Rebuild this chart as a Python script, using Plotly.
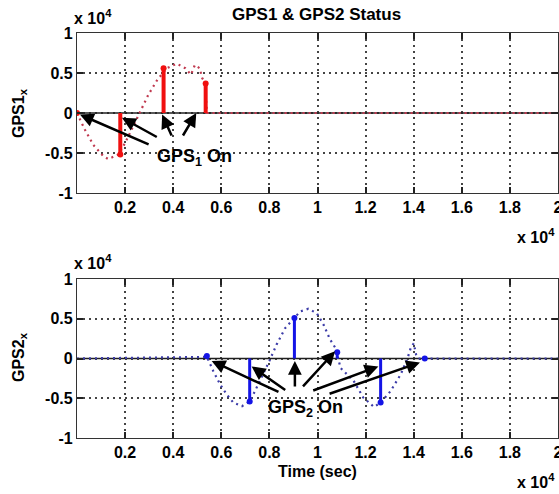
import plotly.graph_objects as go

# ---------------- data (values in units of 1e4) ----------------
x_ticks = [0.2, 0.4, 0.6, 0.8, 1.0, 1.2, 1.4, 1.6, 1.8, 2.0]
x_tick_labels = ["0.2", "0.4", "0.6", "0.8", "1", "1.2", "1.4", "1.6", "1.8", "2"]
y_ticks = [-1, -0.5, 0, 0.5, 1]
y_tick_labels = ["-1", "-0.5", "0", "0.5", "1"]

# GPS1 trajectory (dotted)
gps1_t = [0.0, 0.033, 0.068, 0.11, 0.13, 0.172, 0.2, 0.22, 0.2625, 0.297, 0.335,
          0.374, 0.415, 0.45, 0.474, 0.49, 0.51, 0.52, 0.533, 0.54, 2.0]
gps1_v = [0.0, -0.21, -0.40, -0.54, -0.575, -0.52, -0.375, -0.25, 0.0, 0.23, 0.42,
          0.56, 0.617, 0.56, 0.48, 0.60, 0.56, 0.44, 0.375, 0.0, 0.0]
# GPS1 "On" samples (stems)
gps1_on_t = [0.0, 0.18, 0.36, 0.535]
gps1_on_v = [0.0, -0.52, 0.56, 0.37]

# GPS2 trajectory (dotted)
gps2_t = [0.0, 0.54, 0.567, 0.595, 0.622, 0.65, 0.686, 0.718, 0.74, 0.768, 0.8,
          0.83, 0.865, 0.904, 0.927, 0.962, 0.997, 1.026, 1.052, 1.075, 1.096,
          1.15, 1.19, 1.235, 1.2625, 1.304, 1.346, 1.374, 1.3875, 1.40, 1.41,
          1.42, 1.446, 2.0]
gps2_v = [0.0, 0.02, -0.16, -0.325, -0.45, -0.555, -0.60, -0.54, -0.41, -0.24, -0.03,
          0.175, 0.38, 0.51, 0.59, 0.625, 0.57, 0.42, 0.24, 0.13, -0.12,
          -0.28, -0.49, -0.61, -0.555, -0.41, -0.20, 0.0, 0.13, 0.19, 0.05,
          0.0, 0.0, 0.0]
# GPS2 "On" samples (stems)
gps2_on_t = [0.54, 0.718, 0.904, 1.082, 1.2625, 1.446]
gps2_on_v = [0.03, -0.54, 0.51, 0.08, -0.555, 0.0]

# arrow annotations: (head_x, head_y, tail_x, tail_y)
gps1_arrows = [(0.012, -0.02, 0.304, -0.40), (0.187, -0.06, 0.338, -0.31),
               (0.354, -0.02, 0.396, -0.30), (0.496, 0.0, 0.437, -0.30)]
gps2_arrows = [(0.56, -0.03, 0.844, -0.43), (0.726, -0.10, 0.872, -0.41),
               (0.906, -0.03, 0.906, -0.37), (1.073, 0.09, 0.934, -0.37),
               (1.253, -0.10, 0.976, -0.41), (1.426, -0.05, 1.044, -0.45)]

W, H = 559, 494
FONT = "Liberation Sans, Arial, Helvetica, sans-serif"

RED_DOT = "#c0394f"
RED = "#f01010"
BLUE_DOT = "#3c3ca8"
BLUE = "#1414e6"

fig = go.Figure()


def stems(t, v):
    xs, ys = [], []
    for a, b in zip(t, v):
        xs += [a, a, None]
        ys += [0, b, None]
    return xs, ys


def add_panel(t, v, on_t, on_v, dotc, stemc, stemw, xa, ya):
    fig.add_trace(go.Scatter(x=t, y=v, mode="lines", xaxis=xa, yaxis=ya,
                             line=dict(color=dotc, width=2.2, dash="2px,4px"),
                             showlegend=False, hoverinfo="skip"))
    sx, sy = stems(on_t, on_v)
    fig.add_trace(go.Scatter(x=sx, y=sy, mode="lines", xaxis=xa, yaxis=ya,
                             line=dict(color=stemc, width=stemw),
                             showlegend=False, hoverinfo="skip"))
    fig.add_trace(go.Scatter(x=on_t, y=on_v, mode="markers", xaxis=xa, yaxis=ya,
                             marker=dict(color=stemc, size=6),
                             showlegend=False, hoverinfo="skip"))


# baselines
for xa, ya in (("x", "y"), ("x2", "y2")):
    fig.add_trace(go.Scatter(x=[0, 2], y=[0, 0], mode="lines", xaxis=xa, yaxis=ya,
                             line=dict(color="#202020", width=1.5),
                             showlegend=False, hoverinfo="skip"))

add_panel(gps1_t, gps1_v, gps1_on_t, gps1_on_v, RED_DOT, RED, 4, "x", "y")
add_panel(gps2_t, gps2_v, gps2_on_t, gps2_on_v, BLUE_DOT, BLUE, 3, "x2", "y2")


def px_x(xpx):
    return xpx / W


def px_y(ypx):
    return 1 - ypx / H


xdom = [px_x(77), px_x(558)]
ydom1 = [px_y(193), px_y(33)]
ydom2 = [px_y(438), px_y(279)]

bold = lambda labels: ["<b>%s</b>" % s for s in labels]
tickfont = dict(family=FONT, size=16, color="black")
axis_common = dict(showline=True, linecolor="#333333", linewidth=1.3, mirror="ticks",
                   ticks="inside", ticklen=6, tickwidth=1.5, tickcolor="#222222",
                   showgrid=True, gridcolor="#444444", gridwidth=1.5, griddash="2px,4px",
                   zeroline=False, tickfont=tickfont, automargin=False,
                   ticklabeloverflow="allow")

fig.update_layout(
    width=W, height=H,
    margin=dict(l=0, r=0, t=0, b=0, autoexpand=False),
    plot_bgcolor="white", paper_bgcolor="white",
    xaxis=dict(domain=xdom, range=[0, 2], tickmode="array", tickvals=x_ticks,
               ticktext=bold(x_tick_labels), anchor="y", **axis_common),
    yaxis=dict(domain=ydom1, range=[-1, 1], tickmode="array", tickvals=y_ticks,
               ticktext=bold(y_tick_labels), anchor="x", **axis_common),
    xaxis2=dict(domain=xdom, range=[0, 2], tickmode="array", tickvals=x_ticks,
                ticktext=bold(x_tick_labels), anchor="y2", **axis_common),
    yaxis2=dict(domain=ydom2, range=[-1, 1], tickmode="array", tickvals=y_ticks,
                ticktext=bold(y_tick_labels), anchor="x2", **axis_common),
)

ann = []


def ptext(text, xpx, ypx, size=16, angle=0):
    return dict(text="<b>%s</b>" % text, x=px_x(xpx), y=px_y(ypx), xref="paper",
                yref="paper", xanchor="center", yanchor="middle", textangle=angle,
                showarrow=False, font=dict(family=FONT, size=size, color="black"))


ann.append(ptext("GPS1 &amp; GPS2 Status", 316, 14, size=17))
ann.append(ptext("GPS1<sub>x</sub>", 19, 113, angle=-90))
ann.append(ptext("GPS2<sub>x</sub>", 19, 357, angle=-90))
ann.append(ptext("Time (sec)", 317, 471))
for xpx, ypx in ((93, 17), (536, 236), (93, 262), (536, 481)):
    ann.append(ptext("x 10<sup>4</sup>", xpx, ypx))

# arrows
for arrows, xr, yr in ((gps1_arrows, "x", "y"), (gps2_arrows, "x2", "y2")):
    for hx, hy, tx, ty in arrows:
        ann.append(dict(x=hx, y=hy, ax=tx, ay=ty, xref=xr, yref=yr, axref=xr, ayref=yr,
                        text="", showarrow=True, arrowhead=2, arrowsize=1.1,
                        arrowwidth=2.5, arrowcolor="black", standoff=0))
# "On" texts
annfont = dict(family=FONT, size=18, color="black")
ann.append(dict(text="<b>GPS<sub>1</sub> On</b>", x=0.487, y=-0.55, xref="x", yref="y",
                xanchor="center", yanchor="middle", showarrow=False, font=annfont))
ann.append(dict(text="<b>GPS<sub>2</sub> On</b>", x=0.952, y=-0.63, xref="x2", yref="y2",
                xanchor="center", yanchor="middle", showarrow=False, font=annfont))

fig.update_layout(annotations=ann)

fig.write_html("out.html",
               config={"displayModeBar": False},
               post_script="document.body.style.margin='0px';"
                           "document.body.style.overflow='hidden';")
